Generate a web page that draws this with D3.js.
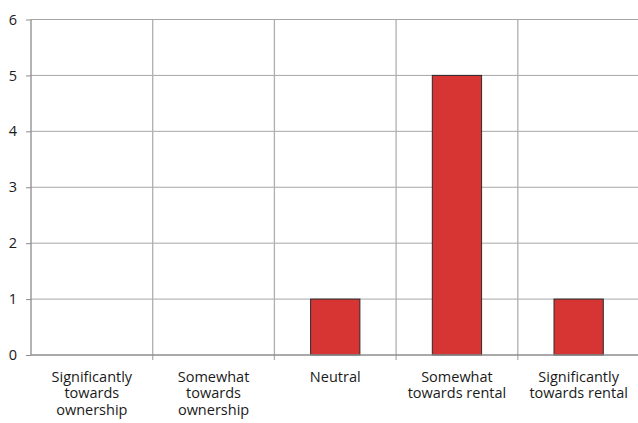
<!DOCTYPE html>
<html><head><meta charset="utf-8">
<script src="https://cdn.jsdelivr.net/npm/d3@7"></script>
<style>body{margin:0;background:#fff}svg{display:block}</style>
</head><body>
<svg id="c" width="638" height="423"></svg>
<script>
const categories = [["Significantly","towards","ownership"],["Somewhat","towards","ownership"],["Neutral"],["Somewhat","towards rental"],["Significantly","towards rental"]];
const values = [0, 0, 1, 5, 1];
const yTicks = [0,1,2,3,4,5,6];

const svg = d3.select("#c");
const m = {left:31, right:-1.5, top:19.5, bottom:68};
const W = 638, H = 423;
const keys = categories.map((d,i)=>i);
const x = d3.scaleBand().domain(keys).range([m.left, W - m.right]).paddingInner(0).paddingOuter(0);
const y = d3.scaleLinear().domain([0,6]).range([H - m.bottom, m.top]);
const font = "'Open Sans', 'Noto Sans', sans-serif";

// horizontal gridlines
svg.append("g").selectAll("line").data(yTicks.filter(d=>d>0)).join("line")
  .attr("x1", m.left).attr("x2", W).attr("y1", d=>y(d)).attr("y2", d=>y(d))
  .attr("stroke", "#a6a6a6").attr("stroke-width", 1);
// vertical gridlines (category boundaries)
svg.append("g").selectAll("line").data(keys.slice(1)).join("line")
  .attr("x1", d=>x(d)).attr("x2", d=>x(d)).attr("y1", m.top).attr("y2", y(0)+5)
  .attr("stroke", "#b0b0b0").attr("stroke-width", 1.3);

// bars
const bw = x.bandwidth()*0.405;
svg.append("g").selectAll("rect").data(values.map((v,i)=>({v,i})).filter(d=>d.v>0)).join("rect")
  .attr("x", d=>x(d.i)+x.bandwidth()/2-bw/2).attr("width", bw)
  .attr("y", d=>y(d.v)).attr("height", d=>y(0)-y(d.v))
  .attr("fill", "#d63533").attr("stroke", "#2a2a2a").attr("stroke-width", 1);

// y axis
const ya = svg.append("g").attr("transform", `translate(${m.left},0)`)
  .call(d3.axisLeft(y).tickValues(yTicks).tickSize(5).tickPadding(9).tickFormat(d3.format("d")));
ya.select(".domain").attr("stroke", "#8c8c8c").attr("stroke-width", 1.3).attr("d", `M0,${y(6)}V${y(0)}`);
ya.selectAll(".tick line").attr("stroke", "#8c8c8c");
ya.selectAll("text").attr("font-family", font).attr("font-size", 14.5).attr("fill", "#1a1a1a");

// x axis line
svg.append("line").attr("x1", m.left).attr("x2", W).attr("y1", y(0)).attr("y2", y(0))
  .attr("stroke", "#8c8c8c").attr("stroke-width", 1.3);

// category labels
const lab = svg.append("g").selectAll("text").data(keys).join("text")
  .attr("x", d=>x(d)+x.bandwidth()/2).attr("y", y(0)+26.5)
  .attr("text-anchor", "middle").attr("font-family", font).attr("font-size", 14.5).attr("fill", "#1a1a1a");
lab.selectAll("tspan").data(d=>categories[d]).join("tspan")
  .attr("x", function(){return this.parentNode.getAttribute("x");})
  .attr("dy", (d,i)=>i===0?0:16.5).text(d=>d);
</script>
</body></html>
